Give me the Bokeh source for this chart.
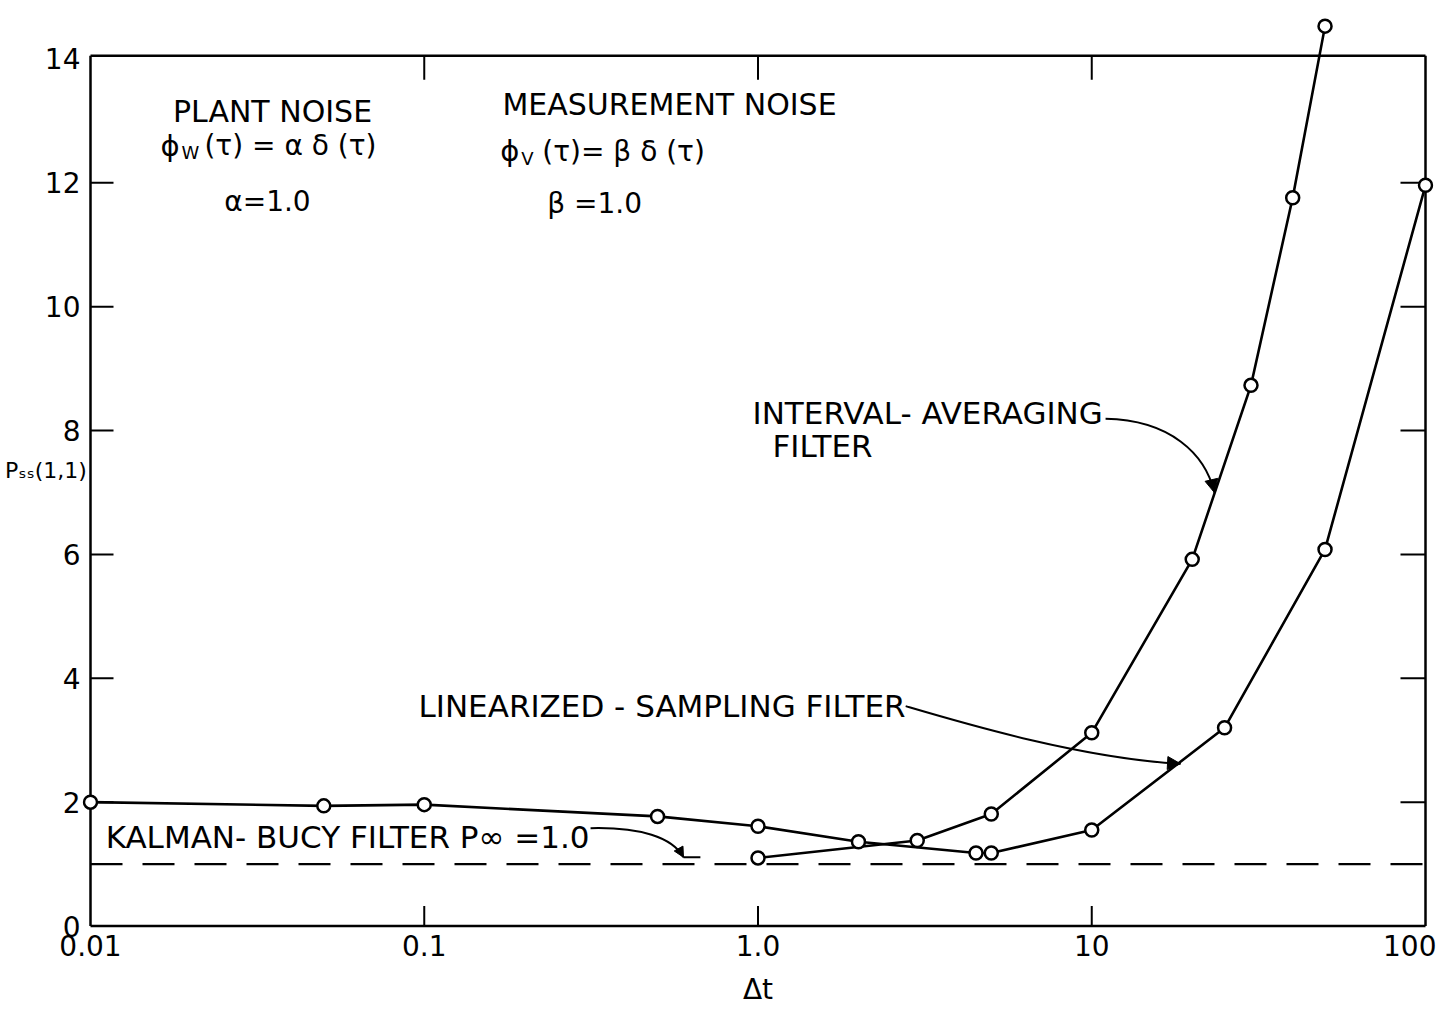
from bokeh.plotting import figure
from bokeh.models import Range1d, FixedTicker, Label, Arrow, NormalHead
from bokeh.embed import file_html
from bokeh.resources import INLINE

# ---- data ----
x_ticks = [0.01, 0.1, 1.0, 10.0, 100.0]
x_tick_labels = ["0.01", "0.1", "1.0", "10", "100"]
y_ticks = [0, 2, 4, 6, 8, 10, 12, 14]
top_ticks = [0.1, 1.0, 10.0]

interval_dt = [1.0, 3.0, 5.0, 10.0, 20.0, 30.0, 40.0, 50.0]
interval_p = [1.10, 1.38, 1.81, 3.12, 5.92, 8.73, 11.76, 14.53]

linear_dt = [0.01, 0.05, 0.1, 0.5, 1.0, 2.0, 4.5, 5.0, 10.0, 25.0, 50.0, 100.0]
linear_p = [2.0, 1.94, 1.96, 1.77, 1.61, 1.36, 1.18, 1.18, 1.55, 3.20, 6.08, 11.96]

kalman_p = 1.0

FONT = "DejaVu Sans"
frame_top = 14.05
X0, X1 = x_ticks[0], x_ticks[-1]
PX_DEC = 333.75          # pixels per decade
PX_UNIT = 61.9           # pixels per y unit
pad = 10 ** (8 / PX_DEC)  # 8px of room so edge markers are not clipped

p = figure(x_axis_type="log", x_range=Range1d(X0 / pad, X1 * pad), y_range=Range1d(-0.04, 14.75),
           frame_width=1351, frame_height=916, output_backend="svg", toolbar_location=None,
           min_border_left=82, min_border_top=12, min_border_bottom=72, min_border_right=3,
           background_fill_color="white", border_fill_color="white")
p.grid.visible = False
p.outline_line_color = None

# bottom axis (labels only; frame and ticks drawn below)
xa = p.xaxis[0]
xa.ticker = FixedTicker(ticks=x_ticks, minor_ticks=[])
xa.major_label_overrides = dict(zip(x_ticks, x_tick_labels))
xa.major_tick_in = 0
xa.major_tick_out = 0
xa.minor_tick_in = 0
xa.minor_tick_out = 0
xa.axis_line_color = None
xa.major_label_text_font = FONT
xa.major_label_text_font_size = "28px"
xa.major_label_text_color = "black"
xa.major_label_standoff = 6
xa.axis_label = "Δt"
xa.axis_label_text_font = FONT
xa.axis_label_text_font_size = "28px"
xa.axis_label_text_font_style = "normal"
xa.axis_label_text_color = "black"
xa.axis_label_standoff = 14

# left axis (labels only)
ya = p.yaxis[0]
ya.ticker = FixedTicker(ticks=y_ticks, minor_ticks=[])
ya.major_tick_in = 0
ya.major_tick_out = 0
ya.minor_tick_in = 0
ya.minor_tick_out = 0
ya.axis_line_color = None
ya.major_label_text_font = FONT
ya.major_label_text_font_size = "28px"
ya.major_label_text_color = "black"
ya.major_label_standoff = 2
ya.axis_label = "Pₛₛ(1,1)"
ya.axis_label_text_font = FONT
ya.axis_label_text_font_size = "22px"
ya.axis_label_text_font_style = "normal"
ya.axis_label_text_color = "black"
try:
    ya.axis_label_orientation = "horizontal"
    ya.axis_label_standoff = -45
except Exception:
    ya.axis_label_standoff = -10

# frame
p.line([X0, X0], [0, frame_top], line_color="black", line_width=2.5)
p.line([X1, X1], [0, frame_top], line_color="black", line_width=2.5)
p.line([X0, X1], [frame_top, frame_top], line_color="black", line_width=2.5)
p.line([X0, X1], [0, 0], line_color="black", line_width=2.5)

# inward ticks
inner_y = y_ticks[1:-1]
n = len(inner_y)
p.segment(x0=[X0] * n, y0=inner_y, x1=[X0 * 10 ** (23 / PX_DEC)] * n, y1=inner_y,
          line_color="black", line_width=2)
p.segment(x0=[X1] * n, y0=inner_y, x1=[X1 / 10 ** (25 / PX_DEC)] * n, y1=inner_y,
          line_color="black", line_width=2)
m = len(top_ticks)
p.segment(x0=top_ticks, y0=[frame_top] * m, x1=top_ticks, y1=[frame_top - 24 / PX_UNIT] * m,
          line_color="black", line_width=2)
p.segment(x0=top_ticks, y0=[0] * m, x1=top_ticks, y1=[20 / PX_UNIT] * m,
          line_color="black", line_width=2)

# Kalman-Bucy dashed line
p.line([X0, X1], [kalman_p, kalman_p], line_color="black", line_width=2.2, line_dash="32 20")

# curves
for xs, ys in [(interval_dt, interval_p), (linear_dt, linear_p)]:
    p.line(xs, ys, line_color="black", line_width=2.6)
    p.scatter(xs, ys, marker="circle", size=13, fill_color="white",
              line_color="black", line_width=2.5)

def lab(x, y, text, size=26, align="left", xo=0, yo=0):
    p.add_layout(Label(x=x, y=y, text=text, x_offset=xo, y_offset=yo,
                       text_font=FONT, text_font_size=f"{size}px",
                       text_align=align, text_baseline="middle", text_color="black"))

# noise annotations
lab(0.0351, 13.15, "PLANT NOISE", 30, "center")
lab(0.0162, 12.6, "ϕ", 29)
lab(0.0162, 12.6, "W", 18, xo=21, yo=-7)
lab(0.0162, 12.6, "(τ) = α  δ (τ)", 28, xo=44)
lab(0.0339, 11.7, "α=1.0", 28, "center")

lab(0.543, 13.26, "MEASUREMENT NOISE", 30, "center")
lab(0.169, 12.51, "ϕ", 29)
lab(0.169, 12.51, "V", 18, xo=21, yo=-7)
lab(0.169, 12.51, "(τ)= β  δ (τ)", 28, xo=42)
lab(0.324, 11.67, "β =1.0", 28, "center")

# curve labels
lab(0.963, 8.29, "INTERVAL- AVERAGING", 31)
lab(1.105, 7.75, "FILTER", 31)
lab(0.0961, 3.55, "LINEARIZED - SAMPLING FILTER", 31)
lab(0.0111, 1.44, "KALMAN- BUCY FILTER P∞ =1.0", 31)

# leader lines
p.bezier(x0=[11.0, 2.77, 0.315], y0=[8.19, 3.55, 1.58],
         x1=[23.3, 18.45, 0.598], y1=[7.0, 2.62, 1.11],
         cx0=[17.2, 4.04, 0.444], cy0=[8.17, 3.29, 1.60],
         cx1=[21.9, 9.25, 0.554], cy1=[7.62, 2.71, 1.43],
         line_color="black", line_width=2)
for (xs, ys, xe, ye, sz) in [(21.9, 7.62, 23.3, 7.0, 13), (9.25, 2.71, 18.45, 2.62, 13),
                             (0.554, 1.43, 0.598, 1.11, 10)]:
    p.add_layout(Arrow(end=NormalHead(size=sz, fill_color="black", line_color="black"),
                       x_start=xs, y_start=ys, x_end=xe, y_end=ye,
                       line_color=None))
p.line([0.598, 0.672], [1.11, 1.11], line_color="black", line_width=2)

open("out.html", "w").write(file_html(p, INLINE))
